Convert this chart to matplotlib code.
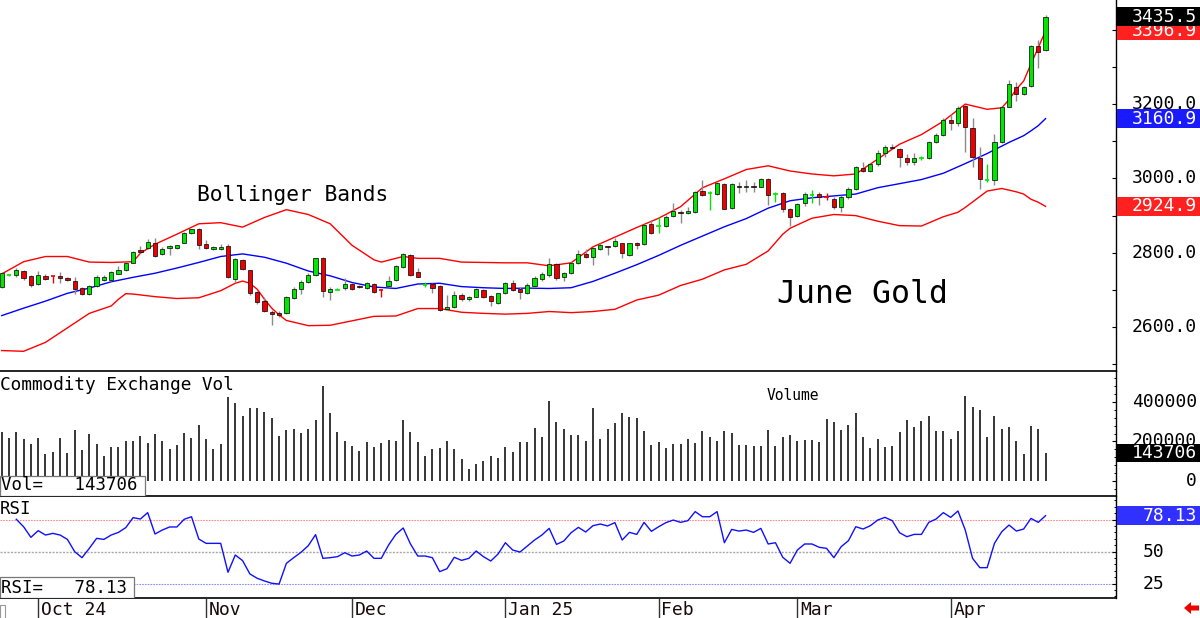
import matplotlib
matplotlib.use('Agg')
import matplotlib.pyplot as plt
from matplotlib.patches import Rectangle, Polygon

# ---------------- data ----------------
opens = [2707,2740,2739,2750,2737,2715,2738,2737,2737,2733,
         2725,2704,2688,2711,2727,2727,2744,2755,2773,2808,
         2812,2827,2797,2812,2813,2827,2852,2865,2823,2810,
         2809,2819,2730,2781,2755,2694,2670,2642,2639,2637,
         2679,2702,2722,2739,2787,2694,2701,2704,2716,2711,
         2706,2716,2699,2711,2728,2763,2794,2749,2712,2715,
         2711,2648,2655,2686,2677,2682,2700,2684,2666,2691,
         2720,2703,2693,2711,2729,2739,2769,2736,2745,2773,
         2798,2790,2809,2818,2818,2826,2794,2826,2824,2877,
         2873,2873,2899,2910,2906,2910,2966,2961,2957,2986,
         2920,2981,2978,2981,2978,2998,2959,2962,2917,2899,
         2935,2956,2957,2949,2946,2922,2949,2971,3029,3021,
         3038,3069,3085,3079,3054,3045,3055,3054,3099,3118,
         3157,3148,3195,3137,3054,2996,2996,3099,3193,3245,
         3226,3249,3357,3346]
highs = [2748,2744,2758,2754,2739,2751,2743,2738,2749,2734,
         2734,2707,2712,2739,2740,2751,2765,2776,2805,2818,
         2837,2839,2815,2820,2822,2855,2865,2867,2834,2817,
         2823,2823,2785,2784,2755,2698,2682,2646,2644,2684,
         2707,2727,2745,2787,2790,2707,2705,2731,2720,2713,
         2722,2718,2702,2738,2767,2799,2797,2758,2722,2718,
         2713,2686,2698,2691,2684,2704,2702,2686,2693,2722,
         2727,2709,2720,2738,2749,2785,2772,2747,2776,2807,
         2809,2816,2825,2818,2839,2827,2827,2829,2877,2888,
         2897,2902,2933,2915,2924,2967,2996,2965,2991,2989,
         2987,2991,2996,2991,3000,3000,2964,2964,2920,2935,
         2964,2968,2964,2960,2951,2955,2978,3033,3045,3041,
         3076,3090,3093,3081,3066,3069,3060,3102,3123,3162,
         3173,3195,3198,3162,3085,3039,3119,3195,3265,3260,
         3249,3359,3372,3440]
lows = [2705,2738,2736,2727,2709,2712,2727,2718,2718,2725,
        2688,2686,2686,2709,2725,2724,2742,2752,2772,2800,
        2809,2788,2794,2793,2811,2825,2851,2809,2809,2808,
        2808,2731,2722,2754,2686,2662,2642,2606,2628,2635,
        2677,2689,2718,2738,2682,2673,2699,2700,2700,2705,
        2702,2691,2680,2707,2725,2760,2738,2734,2709,2691,
        2644,2646,2651,2671,2671,2680,2678,2657,2662,2688,
        2698,2675,2689,2707,2725,2736,2727,2725,2742,2770,
        2785,2767,2807,2794,2816,2785,2791,2809,2821,2850,
        2852,2870,2897,2881,2904,2908,2953,2915,2955,2917,
        2917,2962,2964,2964,2976,2929,2937,2911,2872,2897,
        2926,2935,2929,2942,2917,2911,2946,2969,3018,3018,
        3034,3059,3079,3032,3036,3036,3050,3051,3094,3114,
        3130,3141,3072,3032,2971,2991,2982,3096,3191,3209,
        3224,3245,3296,3344]
closes = [2746,2741,2754,2733,2713,2739,2729,2736,2732,2727,
          2702,2688,2711,2736,2734,2747,2754,2772,2803,2803,
          2828,2791,2809,2819,2820,2852,2863,2822,2812,2815,
          2816,2736,2782,2757,2693,2668,2644,2634,2632,2682,
          2702,2721,2739,2785,2697,2702,2702,2717,2703,2707,
          2719,2694,2698,2724,2764,2797,2740,2736,2713,2704,
          2646,2655,2686,2675,2682,2703,2682,2670,2691,2720,
          2700,2694,2712,2733,2743,2769,2731,2745,2773,2796,
          2788,2812,2820,2815,2833,2799,2826,2820,2875,2852,
          2874,2897,2912,2906,2913,2964,2955,2962,2987,2919,
          2985,2978,2981,2978,2998,2956,2960,2917,2895,2931,
          2957,2957,2949,2948,2922,2951,2971,3030,3021,3039,
          3069,3085,3081,3057,3045,3054,3056,3099,3118,3157,
          3148,3190,3139,3057,2998,2997,3099,3193,3254,3226,
          3245,3357,3341,3435.5]
volume = [246,217,246,212,186,219,137,149,219,144,
          259,158,236,186,127,171,170,203,200,227,
          192,236,203,164,180,241,219,285,212,164,
          188,425,393,327,371,371,347,317,227,259,
          264,241,264,310,480,344,246,200,178,153,
          195,171,190,207,203,310,249,198,127,161,
          168,203,164,112,59,85,103,127,117,170,
          149,198,195,268,224,403,300,264,231,231,
          203,369,212,264,293,342,322,319,251,181,
          198,166,188,188,214,190,251,224,200,251,
          244,183,180,178,178,259,178,224,232,203,
          208,207,195,314,298,259,285,342,224,166,
          214,173,178,247,310,275,302,331,251,251,
          215,251,429,376,359,224,331,264,271,203,
          137,281,264,143.706]  # thousands of contracts
rsi_first_bar = 2
rsi = [75.3,69.5,61.2,66.4,63.0,64.3,63.0,59.6,50.0,45.3,
       52.6,60.4,59.6,63.0,65.1,68.8,76.6,75.5,80.5,63.8,
       66.9,69.3,69.3,75.3,77.3,59.9,56.5,56.5,56.5,33.9,
       47.4,43.0,32.6,29.2,27.1,25.3,24.7,40.9,45.3,49.5,
       54.7,63.3,44.8,45.3,46.1,49.2,46.6,47.4,50.5,44.8,
       44.8,55.2,63.5,68.5,56.0,46.6,46.6,45.3,34.4,36.7,
       45.6,43.2,44.8,50.5,46.1,42.7,48.2,57.0,51.3,49.7,
       54.4,59.1,63.0,68.2,55.7,58.3,64.8,69.0,65.4,70.3,
       71.6,70.1,72.7,59.1,65.1,63.5,72.9,65.9,69.5,72.7,
       74.7,72.9,74.2,81.3,77.3,77.3,81.3,57.0,67.4,66.1,
       66.9,65.1,68.2,56.0,57.0,45.6,40.9,51.3,56.0,56.0,
       53.4,52.6,45.3,53.9,58.6,69.5,67.7,70.3,74.7,76.8,
       74.2,64.8,61.7,63.5,63.5,72.9,75.5,80.5,76.8,81.8,
       66.9,44.8,37.5,37.5,56.5,65.6,70.8,66.1,67.7,76.0,
       72.9,78.13]

upper_bar = [0,3,6,9,12,15,18,19,21,24,27,30,33,36,39,42,45,48,51,52,55,57,60,63,66,69,72,75,78,81,84,87,90,93,96,99,102,105,108,111,114,117,120,123,126,129,132,135,137,138,139,140,141,142,143]
upper = [2743,2776,2790,2790,2775,2774,2776,2799,2823,2850,2878,2881,2869,2895,2916,2903,2878,2820,2781,2775,2790,2785,2785,2775,2774,2773,2773,2765,2773,2816,2842,2868,2893,2924,2975,2999,3024,3034,3020,3012,3007,3012,3052,3092,3118,3154,3200,3186,3190,3212,3240,3262,3308,3352,3396.9]
mid_bar = [0,3,6,9,12,15,18,21,24,27,30,33,36,39,42,45,48,51,54,57,60,63,66,69,72,75,78,81,84,87,90,93,96,99,102,105,108,111,114,117,120,123,126,129,132,135,138,140,141,142,143]
middle = [2631,2651,2670,2691,2705,2722,2734,2745,2759,2774,2790,2797,2788,2772,2751,2738,2720,2708,2704,2716,2718,2709,2706,2704,2705,2704,2706,2723,2745,2768,2793,2820,2845,2870,2892,2920,2940,2948,2953,2958,2975,2986,2997,3014,3040,3067,3097,3115,3128,3142,3160.9]
lower_bar = [0,3,6,9,12,15,16,17,18,21,24,27,30,32,33,34,35,36,37,38,39,42,45,48,51,54,57,60,63,66,69,72,75,78,81,84,87,90,93,96,99,102,105,107,108,111,114,117,120,123,126,129,131,132,135,137,139,140,141,142,143]
lower = [2537,2535,2559,2598,2637,2657,2675,2690,2689,2682,2677,2679,2698,2718,2724,2718,2702,2675,2651,2633,2618,2604,2605,2617,2629,2630,2650,2650,2640,2637,2635,2637,2642,2639,2642,2648,2673,2686,2712,2729,2754,2769,2805,2850,2866,2893,2903,2900,2885,2873,2872,2897,2909,2922,2966,2973,2964,2958,2944,2936,2924.9]

month_bar = [5, 28, 48, 69, 90, 109, 130]
month_labels = ["Oct 24", "Nov", "Dec", "Jan 25", "Feb", "Mar", "Apr"]
price_ticks = [2600, 2800, 3000, 3200]
vol_ticks = [0, 200000, 400000]
rsi_ticks = [25, 50]
last_close, last_upper, last_mid, last_lower = 3435.5, 3396.9, 3160.9, 2924.9
last_vol, last_rsi = 143706, 78.13

# ---------------- layout ----------------
W, H = 1200, 618
MONO = 'DejaVu Sans Mono'
plt.rcParams['font.family'] = [MONO, 'DejaVu Sans']
fig = plt.figure(figsize=(W / 100, H / 100), dpi=100)
fig.patch.set_facecolor('white')

def rect(x0, y0, x1, y1):
    return [x0 / W, 1 - y1 / H, (x1 - x0) / W, (y1 - y0) / H]

XR = 1116
ax_p = fig.add_axes(rect(0, 0, XR, 371))
ax_v = fig.add_axes(rect(0, 371, XR, 496), sharex=ax_p)
ax_r = fig.add_axes(rect(0, 496, XR, 598), sharex=ax_p)
ax_d = fig.add_axes(rect(0, 598, XR, 618), sharex=ax_p)
lab_p = fig.add_axes(rect(XR, 0, W, 371))
lab_v = fig.add_axes(rect(XR, 371, W, 496))
lab_r = fig.add_axes(rect(XR, 496, W, 598))

ylims = {ax_p: (2482, 3480), ax_v: (-76000, 557000), ax_r: (13.8, 93.5)}
for a, lab in ((ax_p, lab_p), (ax_v, lab_v), (ax_r, lab_r)):
    a.set_ylim(*ylims[a])
    lab.set_ylim(*ylims[a])
    lab.set_xlim(0, 1)
    lab.axis('off')
    for s in ('top', 'left'):
        a.spines[s].set_visible(False)
    a.spines['right'].set_color('black')
    a.spines['right'].set_linewidth(1.0)
    a.spines['bottom'].set_color('black')
    a.spines['bottom'].set_linewidth(1.2)
    a.set_xticks([])
    a.yaxis.tick_right()
    a.tick_params(axis='y', which='major', direction='in', length=3, width=0.8,
                  labelright=False, labelleft=False)
    a.tick_params(axis='y', which='minor', direction='in', length=1.6, width=0.7)
    a.patch.set_alpha(0)

ax_p.set_xlim(-0.233, 152.65)
ax_p.set_yticks(range(2500, 3500, 100))
ax_v.set_yticks([0, 200000, 400000])
ax_v.set_yticks(range(-40000, 560000, 40000), minor=True)
ax_r.set_yticks([25, 50, 75])
ax_r.set_yticks(range(15, 95, 5), minor=True)
ax_d.axis('off')
ax_d.set_ylim(0, 1)

n = len(closes)
idx = list(range(n))

# ---------------- price panel ----------------
ax_p.plot(upper_bar, upper, color='#ff0000', lw=1.0, zorder=2)
ax_p.plot(lower_bar, lower, color='#ff0000', lw=1.0, zorder=2)
ax_p.plot(mid_bar, middle, color='#0000ff', lw=1.0, zorder=2)

GREEN, RED = '#00e600', '#ee0000'
for i in idx:
    o, h, l, c = opens[i], highs[i], lows[i], closes[i]
    up = c >= o
    col = GREEN if up else RED
    if abs(c - o) < 1.5:
        ax_p.vlines(i, l, h, color=col, lw=1.0, zorder=3)
        ax_p.hlines(o, i - 0.3, i + 0.3, color=col, lw=1.2, zorder=4)
    else:
        ax_p.vlines(i, l, h, color='#8a8a8a', lw=1.0, zorder=3)
        ax_p.add_patch(Rectangle((i - 0.29, min(o, c)), 0.58, abs(c - o),
                                 facecolor=col, edgecolor='black', lw=0.5, zorder=4))

ax_p.text(197 / XR, 1 - 200.5 / 371, 'Bollinger Bands', transform=ax_p.transAxes,
          fontsize=15.3, color='black', va='baseline', ha='left')
ax_p.text(777 / XR, 1 - 303 / 371, 'June Gold', transform=ax_p.transAxes,
          fontsize=22.7, color='black', va='baseline', ha='left')

# ---------------- volume panel ----------------
ax_v.vlines(idx, 0, [v * 1000 for v in volume], color='black', lw=1.1, zorder=2)
ax_v.text(0, 1 - 18.5 / 125, 'Commodity Exchange Vol', transform=ax_v.transAxes,
          fontsize=12.8, va='baseline', ha='left')
ax_v.text(767 / XR, 1 - 29 / 125, 'Volume', transform=ax_v.transAxes,
          fontsize=10.5, va='baseline', ha='left')
ax_v.add_patch(Rectangle((0, 0), 145 / XR, 20 / 125, transform=ax_v.transAxes,
                         facecolor='white', edgecolor='#777777', lw=0.9, zorder=5))
ax_v.text(1 / XR, 1 - (490.5 - 371) / 125, 'Vol=   %d' % last_vol, transform=ax_v.transAxes,
          fontsize=12.5, va='baseline', ha='left', zorder=6)

# ---------------- RSI panel ----------------
ax_r.axhline(75, color='#ff8c8c', lw=0.8, ls=(0, (1.5, 1)), zorder=1)
ax_r.axhline(50, color='#a8a8a8', lw=1.0, ls=(0, (1.5, 1)), zorder=1)
ax_r.axhline(25, color='#8c8cff', lw=0.8, ls=(0, (1.5, 1)), zorder=1)
ax_r.plot(range(rsi_first_bar, rsi_first_bar + len(rsi)), rsi, color='#1010ff', lw=1.0, zorder=2)
ax_r.text(0, 1 - 18 / 102, 'RSI', transform=ax_r.transAxes, fontsize=12.5,
          va='baseline', ha='left')
ax_r.add_patch(Rectangle((0, 0), 134 / XR, 21 / 102, transform=ax_r.transAxes,
                         facecolor='white', edgecolor='#777777', lw=0.9, zorder=5))
ax_r.text(1 / XR, 1 - (592.7 - 496) / 102, 'RSI=   %.2f' % last_rsi, transform=ax_r.transAxes,
          fontsize=12.5, va='baseline', ha='left', zorder=6)

# ---------------- date strip ----------------
for b, t in zip(month_bar, month_labels):
    ax_d.vlines(b, 0, 1, color='#333333', lw=1.0)
    ax_d.text(b + 0.35, 0.15, t, fontsize=13, va='baseline', ha='left', color='#1a0a0a')
fig.patches.append(Rectangle((0, 0), 5 / W, 13 / H, transform=fig.transFigure,
                             facecolor='white', edgecolor='#999999', lw=0.8))
arrow_px = [(1184, 608), (1191, 602), (1191, 605.5), (1199, 605.5), (1199, 610.5), (1191, 610.5), (1191, 614)]
fig.patches.append(Polygon([(x / W, 1 - y / H) for x, y in arrow_px], closed=True,
                           transform=fig.transFigure, facecolor='#ee0000', edgecolor='none'))

# ---------------- right-hand labels ----------------
def px_to_data(lab, px, panel_px):
    lo, hi = lab.get_ylim()
    return px * (hi - lo) / panel_px

TX = (1197 - XR) / (W - XR)
for t in price_ticks:
    lab_p.text(TX, t, '%.1f' % t, fontsize=13, ha='right', va='center', zorder=1)
for t in vol_ticks:
    lab_v.text(TX, t, '%d' % t, fontsize=13, ha='right', va='center', zorder=1)
for t in rsi_ticks:
    lab_r.text((1164 - XR) / (W - XR), t, '%d' % t, fontsize=13, ha='right', va='center', zorder=1)

def box_label(lab, value, text, color, panel_px, hpx=19, zorder=3):
    hh = px_to_data(lab, hpx, panel_px)
    lab.add_patch(Rectangle((0.01, value - hh / 2), 0.99, hh, facecolor=color,
                            edgecolor='none', zorder=zorder, clip_on=False))
    lab.text(TX, value, text, fontsize=13, ha='right', va='center', color='white',
             zorder=zorder + 0.5, clip_on=False)

box_label(lab_p, last_lower, '%.1f' % last_lower, '#ff2020', 371)
box_label(lab_p, last_mid, '%.1f' % last_mid, '#1a1aff', 371)
box_label(lab_p, last_upper, '%.1f' % last_upper, '#ff2020', 371, zorder=3)
box_label(lab_p, last_close, '%.1f' % last_close, '#000000', 371, zorder=5)
box_label(lab_v, last_vol, '%d' % last_vol, '#000000', 125, hpx=18)
box_label(lab_r, last_rsi, '%.2f' % last_rsi, '#3030ff', 102)

fig.savefig('out.png', dpi=100, facecolor='white')
